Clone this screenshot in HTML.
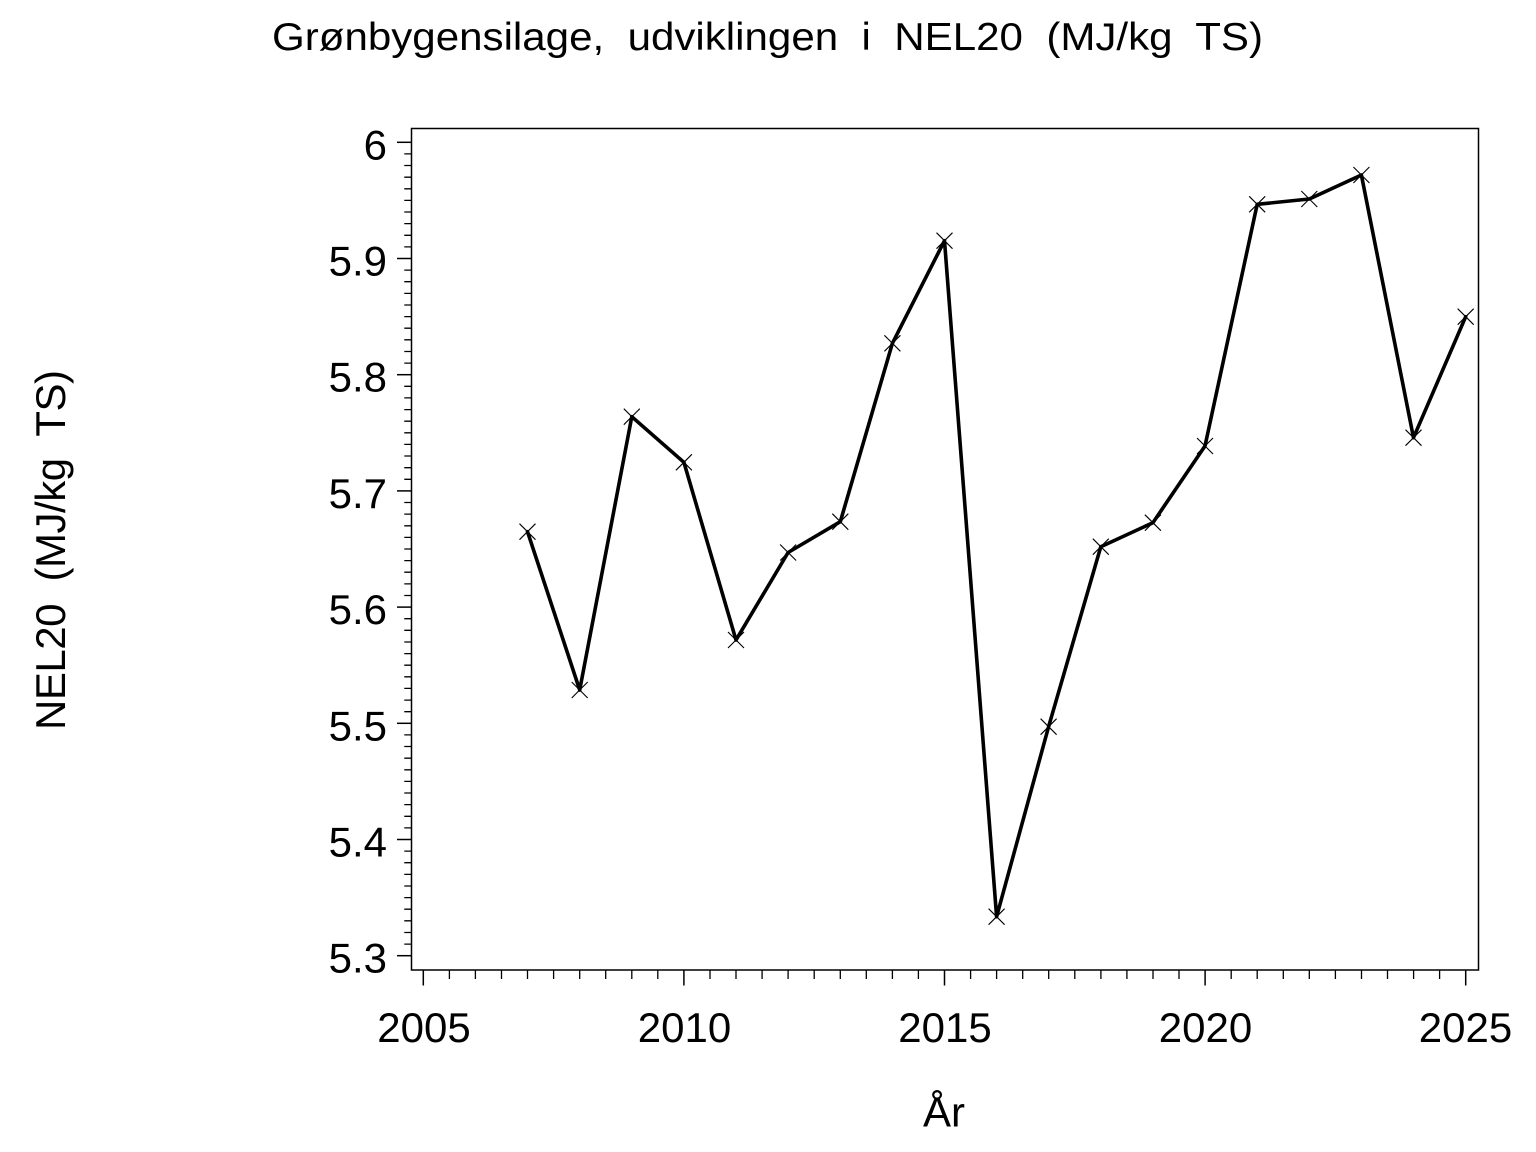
<!DOCTYPE html>
<html>
<head>
<meta charset="utf-8">
<style>
html,body{margin:0;padding:0;background:#fff;}
svg{display:block;}
text{font-family:"Liberation Sans",Arial,sans-serif;fill:#000;}
</style>
</head>
<body>
<svg width="1536" height="1152" viewBox="0 0 1536 1152" xmlns="http://www.w3.org/2000/svg">
<rect width="1536" height="1152" fill="#fff"/>
<!-- Title -->
<text x="272" y="50" font-size="39" textLength="991" lengthAdjust="spacingAndGlyphs" xml:space="preserve">Grønbygensilage,  udviklingen  i  NEL20  (MJ/kg  TS)</text>

<!-- Frame -->
<rect x="411.5" y="128.5" width="1067" height="841.5" fill="none" stroke="#000" stroke-width="1.5"/>

<!-- Y tick labels -->
<g font-size="42" text-anchor="end">
<text x="387" y="159.3">6</text>
<text x="387" y="275.5">5.9</text>
<text x="387" y="391.7">5.8</text>
<text x="387" y="507.9">5.7</text>
<text x="387" y="624.1">5.6</text>
<text x="387" y="740.3">5.5</text>
<text x="387" y="856.5">5.4</text>
<text x="387" y="972.7">5.3</text>
</g>

<!-- X tick labels -->
<g font-size="42" text-anchor="middle">
<text x="424" y="1042">2005</text>
<text x="684.5" y="1042">2010</text>
<text x="945" y="1042">2015</text>
<text x="1205.5" y="1042">2020</text>
<text x="1465.5" y="1042">2025</text>
</g>

<!-- Axis labels -->
<text x="944" y="1126.5" font-size="42" text-anchor="middle">År</text>
<text transform="translate(65,550) rotate(-90)" x="0" y="0" font-size="42" text-anchor="middle" textLength="360" lengthAdjust="spacing" xml:space="preserve">NEL20  (MJ/kg  TS)</text>

<!-- Data line -->
<polyline fill="none" stroke="#000" stroke-width="3.6" stroke-linejoin="round" stroke-linecap="round"
points="527.5,531.7 579.7,690 631.8,416.7 683.9,462.3 736,640 788.1,552.5 840.3,521.7 892.4,343.3 944.5,240.7 996.6,916.7 1048.6,726.7 1100.8,546.7 1152.9,522.7 1205,446 1257.2,204.3 1309.3,199 1361.4,175 1413.5,437.7 1465.7,316.7"/>

<g stroke="#000" stroke-width="1.5">
<!-- Y major ticks -->
<line x1="397" y1="142.3" x2="411.5" y2="142.3"/>
<line x1="397" y1="258.5" x2="411.5" y2="258.5"/>
<line x1="397" y1="374.7" x2="411.5" y2="374.7"/>
<line x1="397" y1="490.9" x2="411.5" y2="490.9"/>
<line x1="397" y1="607.1" x2="411.5" y2="607.1"/>
<line x1="397" y1="723.3" x2="411.5" y2="723.3"/>
<line x1="397" y1="839.5" x2="411.5" y2="839.5"/>
<line x1="397" y1="955.7" x2="411.5" y2="955.7"/>
</g>
<g stroke="#000" stroke-width="1.3">
<!-- Y minor ticks -->
<path d="
M404.3 153.9H411.5M404.3 165.5H411.5M404.3 177.2H411.5M404.3 188.8H411.5M404.3 200.4H411.5M404.3 212.0H411.5M404.3 223.6H411.5M404.3 235.3H411.5M404.3 246.9H411.5
M404.3 270.1H411.5M404.3 281.7H411.5M404.3 293.4H411.5M404.3 305.0H411.5M404.3 316.6H411.5M404.3 328.2H411.5M404.3 339.8H411.5M404.3 351.5H411.5M404.3 363.1H411.5
M404.3 386.3H411.5M404.3 397.9H411.5M404.3 409.6H411.5M404.3 421.2H411.5M404.3 432.8H411.5M404.3 444.4H411.5M404.3 456.0H411.5M404.3 467.7H411.5M404.3 479.3H411.5
M404.3 502.5H411.5M404.3 514.1H411.5M404.3 525.8H411.5M404.3 537.4H411.5M404.3 549.0H411.5M404.3 560.6H411.5M404.3 572.2H411.5M404.3 583.9H411.5M404.3 595.5H411.5
M404.3 618.7H411.5M404.3 630.3H411.5M404.3 642.0H411.5M404.3 653.6H411.5M404.3 665.2H411.5M404.3 676.8H411.5M404.3 688.4H411.5M404.3 700.1H411.5M404.3 711.7H411.5
M404.3 734.9H411.5M404.3 746.5H411.5M404.3 758.2H411.5M404.3 769.8H411.5M404.3 781.4H411.5M404.3 793.0H411.5M404.3 804.6H411.5M404.3 816.3H411.5M404.3 827.9H411.5
M404.3 851.1H411.5M404.3 862.7H411.5M404.3 874.4H411.5M404.3 886.0H411.5M404.3 897.6H411.5M404.3 909.2H411.5M404.3 920.8H411.5M404.3 932.5H411.5M404.3 944.1H411.5
"/>
</g>
<g stroke="#000" stroke-width="1.5">
<!-- X major ticks -->
<line x1="423.3" y1="970" x2="423.3" y2="985.5"/>
<line x1="683.9" y1="970" x2="683.9" y2="985.5"/>
<line x1="944.5" y1="970" x2="944.5" y2="985.5"/>
<line x1="1205.1" y1="970" x2="1205.1" y2="985.5"/>
<line x1="1465.7" y1="970" x2="1465.7" y2="985.5"/>
</g>
<g stroke="#000" stroke-width="1.3">
<!-- X minor ticks every half year -->
<path d="
M449.4 970V979M475.4 970V979M501.5 970V979M527.5 970V979M553.6 970V979M579.7 970V979M605.7 970V979M631.8 970V979M657.8 970V979
M710.0 970V979M736.0 970V979M762.1 970V979M788.1 970V979M814.2 970V979M840.3 970V979M866.3 970V979M892.4 970V979M918.4 970V979
M970.6 970V979M996.6 970V979M1022.7 970V979M1048.7 970V979M1074.8 970V979M1100.9 970V979M1126.9 970V979M1153.0 970V979M1179.0 970V979
M1231.2 970V979M1257.2 970V979M1283.3 970V979M1309.3 970V979M1335.4 970V979M1361.5 970V979M1387.5 970V979M1413.6 970V979M1439.6 970V979
"/>
</g>

<!-- X markers -->
<g stroke="#000" stroke-width="1.1" fill="none">
<path d="
M519.5 523.7L535.5 539.7M519.5 539.7L535.5 523.7
M571.7 682L587.7 698M571.7 698L587.7 682
M623.8 408.7L639.8 424.7M623.8 424.7L639.8 408.7
M675.9 454.3L691.9 470.3M675.9 470.3L691.9 454.3
M728 632L744 648M728 648L744 632
M780.1 544.5L796.1 560.5M780.1 560.5L796.1 544.5
M832.3 513.7L848.3 529.7M832.3 529.7L848.3 513.7
M884.4 335.3L900.4 351.3M884.4 351.3L900.4 335.3
M936.5 232.7L952.5 248.7M936.5 248.7L952.5 232.7
M988.6 908.7L1004.6 924.7M988.6 924.7L1004.6 908.7
M1040.6 718.7L1056.6 734.7M1040.6 734.7L1056.6 718.7
M1092.8 538.7L1108.8 554.7M1092.8 554.7L1108.8 538.7
M1144.9 514.7L1160.9 530.7M1144.9 530.7L1160.9 514.7
M1197 438L1213 454M1197 454L1213 438
M1249.2 196.3L1265.2 212.3M1249.2 212.3L1265.2 196.3
M1301.3 191L1317.3 207M1301.3 207L1317.3 191
M1353.4 167L1369.4 183M1353.4 183L1369.4 167
M1405.5 429.7L1421.5 445.7M1405.5 445.7L1421.5 429.7
M1457.7 308.7L1473.7 324.7M1457.7 324.7L1473.7 308.7
"/>
</g>
</svg>
</body>
</html>
